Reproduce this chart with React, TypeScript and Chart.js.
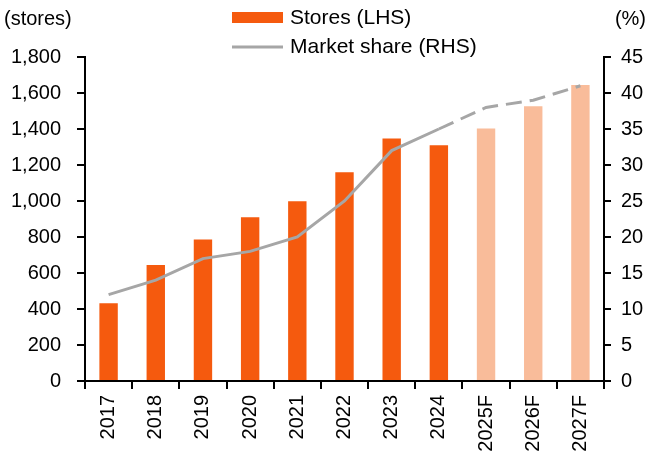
import React, { useEffect, useRef } from "react";
import { Chart, registerables } from "chart.js";

Chart.register(...registerables);

const categories = ["2017", "2018", "2019", "2020", "2021", "2022", "2023", "2024", "2025F", "2026F", "2027F"];
const stores = [432, 645, 786, 910, 998, 1160, 1347, 1310, 1403, 1526, 1644];
const marketShare = [12, 14, 17, 18, 20, 25, 32, 35, 38, 39, 41];
const forecastStart = 8; // index of first forecast year
const leftTicks = [0, 200, 400, 600, 800, 1000, 1200, 1400, 1600, 1800];
const rightTicks = [0, 5, 10, 15, 20, 25, 30, 35, 40, 45];

const ORANGE = "#F55A0E";
const LIGHT = "#F9BC9A";
const GRAY = "#A6A6A6";
const FONT = "Arial, 'Liberation Sans', sans-serif";

const overlayPlugin = {
  id: "overlay",
  afterDraw(chart: any) {
    const ctx = chart.ctx;
    ctx.save();
    ctx.fillStyle = "#000";
    ctx.font = `20px ${FONT}`;
    ctx.textBaseline = "middle";
    ctx.textAlign = "left";
    ctx.fillText("(stores)", 4, 19);
    ctx.textAlign = "right";
    ctx.fillText("(%)", 646, 19);
    // legend
    ctx.fillStyle = ORANGE;
    ctx.fillRect(232, 12, 51, 11);
    ctx.strokeStyle = GRAY;
    ctx.lineWidth = 3;
    ctx.beginPath();
    ctx.moveTo(232, 47);
    ctx.lineTo(283, 47);
    ctx.stroke();
    ctx.fillStyle = "#000";
    ctx.textAlign = "left";
    ctx.font = `21px ${FONT}`;
    ctx.fillText("Stores (LHS)", 290, 18);
    ctx.fillText("Market share (RHS)", 290, 47);
    ctx.restore();
  },
};

export default function App() {
  const ref = useRef<HTMLCanvasElement | null>(null);
  useEffect(() => {
    document.body.style.margin = "0";
    const canvas = ref.current!;
    const chart = new Chart(canvas, {
      type: "bar",
      data: {
        labels: categories,
        datasets: [
          {
            type: "line",
            label: "Market share (RHS)",
            data: marketShare,
            yAxisID: "y1",
            borderColor: GRAY,
            borderWidth: 3,
            pointRadius: 0,
            tension: 0,
            order: 0,
            segment: {
              borderDash: (c: any) => (c.p0DataIndex >= forecastStart - 1 ? [16, 8] : undefined),
            },
          } as any,
          {
            type: "bar",
            label: "Stores (LHS)",
            data: stores,
            yAxisID: "y",
            backgroundColor: stores.map((_, i) => (i >= forecastStart ? LIGHT : ORANGE)),
            barPercentage: 0.39,
            categoryPercentage: 1,
            order: 1,
          },
        ],
      },
      options: {
        animation: false,
        responsive: false,
        devicePixelRatio: 1,
        layout: { padding: { top: 57, left: 0, right: 0, bottom: 0 } },
        plugins: { legend: { display: false }, tooltip: { enabled: false } },
        scales: {
          x: {
            afterFit: (s: any) => { s.height = 73; },
            border: { color: "#000", width: 2 },
            grid: { offset: true, drawOnChartArea: false, drawTicks: true, tickLength: 8, color: "#000", lineWidth: 2 },
            ticks: { color: "#000", font: { family: FONT, size: 20 }, minRotation: 90, maxRotation: 90, padding: 6, autoSkip: false },
          },
          y: {
            position: "left",
            min: 0,
            max: 1800,
            afterFit: (s: any) => { s.width = 85; },
            afterBuildTicks: (s: any) => { s.ticks = leftTicks.map((v) => ({ value: v })); },
            border: { color: "#000", width: 2 },
            grid: { drawOnChartArea: false, drawTicks: true, tickLength: 8, color: "#000", lineWidth: 2 },
            ticks: {
              color: "#000",
              font: { family: FONT, size: 20 },
              padding: 16,
              callback: (v: any) => Number(v).toLocaleString("en-US"),
            },
          },
          y1: {
            position: "right",
            min: 0,
            max: 45,
            afterFit: (s: any) => { s.width = 44; },
            afterBuildTicks: (s: any) => { s.ticks = rightTicks.map((v) => ({ value: v })); },
            border: { color: "#000", width: 2 },
            grid: { drawOnChartArea: false, drawTicks: true, tickLength: 7, color: "#000", lineWidth: 2 },
            ticks: { color: "#000", font: { family: FONT, size: 20 }, padding: 10 },
          },
        },
      },
      plugins: [overlayPlugin],
    });
    return () => chart.destroy();
  }, []);
  return (
    <div style={{ position: "absolute", left: 0, top: 0, width: 648, height: 454, background: "#fff" }}>
      <canvas ref={ref} width={648} height={454} />
    </div>
  );
}
